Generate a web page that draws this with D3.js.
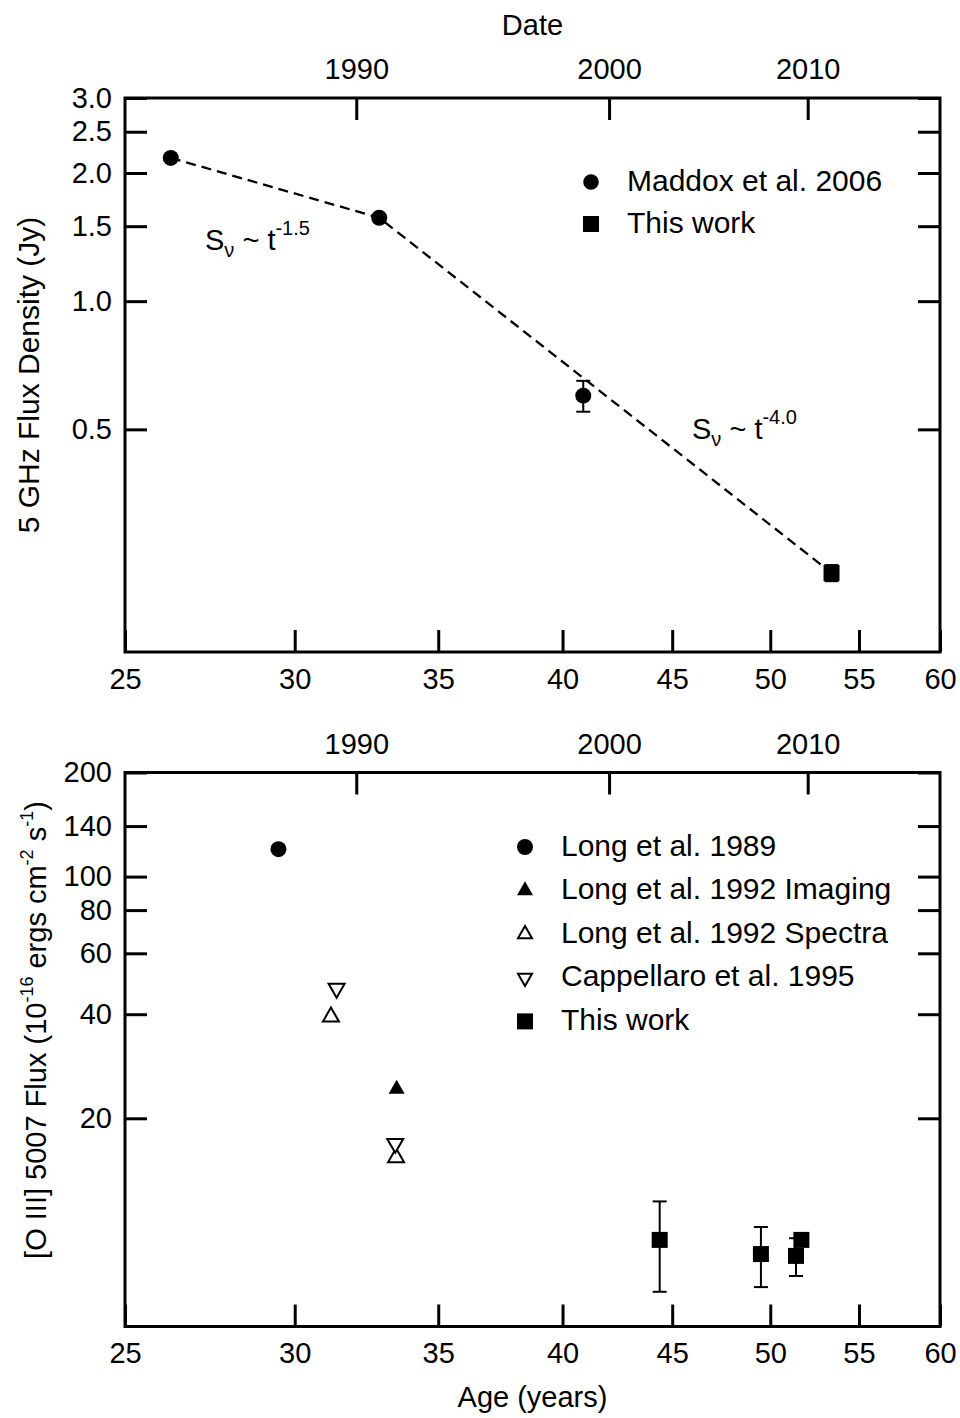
<!DOCTYPE html>
<html>
<head>
<meta charset="utf-8">
<script src="https://cdn.jsdelivr.net/npm/d3@7"></script>
<style>
  body { margin: 0; background: #fff; }
  svg { font-family: "Liberation Sans", Arial, Helvetica, sans-serif; }
  .axis text { font-size: 29px; fill: #000; }
  .axis line { stroke: #000; stroke-width: 3px; }
</style>
</head>
<body>
<div id="vis"></div>
<script>
// ---- data ----
const birthYear = 1957.95;           // age = date - birthYear
const ageTicks = [25, 30, 35, 40, 45, 50, 55, 60];
const dateTicks = [1990, 2000, 2010];
const radioTicks = [3.0, 2.5, 2.0, 1.5, 1.0, 0.5];
const oiiiTicks = [200, 140, 100, 80, 60, 40, 20];

// top panel: 5 GHz flux density
const radioAge = [26.26, 32.85, 40.9, 53.4];
const radioFlux = [2.17, 1.57, 0.60, 0.23];
const radioErr = [0.03, 0.02, 0.05, 0.01];
const radioSet = ['maddox', 'maddox', 'maddox', 'this'];
const fitAge = [26.26, 32.85, 53.4];
const fitFlux = [2.17, 1.57, 0.23];

// bottom panel: [O III] 5007 flux
const long89Age = [29.48], long89Flux = [120];
const long92ImgAge = [33.47], long92ImgFlux = [24.3];
const long92SpecAge = [31.19, 33.45], long92SpecFlux = [39.3, 15.4];
const capp95Age = [31.38, 33.42], capp95Flux = [47.5, 16.9];
const thisAge = [44.4, 49.5, 51.4, 51.7];
const thisFlux = [8.9, 8.1, 8.0, 8.9];
const thisErr = [2.6, 1.6, 1.0, 0.3];

const radioLegend = ['Maddox et al. 2006', 'This work'];
const oiiiLegend = ['Long et al. 1989', 'Long et al. 1992 Imaging', 'Long et al. 1992 Spectra',
                    'Cappellaro et al. 1995', 'This work'];

// ---- layout ----
const W = 960, H = 1418;
const left = 125, right = 940;
const top1 = 98, bot1 = 652;
const top2 = 772.5, bot2 = 1326.5;
const tick = 22;

const svg = d3.select('#vis').append('svg').attr('width', W).attr('height', H);

const x = d3.scaleLog().domain([25, 60]).range([left, right]);
const y1 = d3.scaleLog().domain([0.15, 3]).range([bot1, top1]);
const y2 = d3.scaleLog().domain([5, 200]).range([bot2, top2]);

const shape = {
  circle: d3.symbol().type(d3.symbolCircle).size(201),
  square: d3.symbol().type(d3.symbolSquare).size(256),
  tri: d3.symbol().type(d3.symbolTriangle).size(111),
  triSmall: d3.symbol().type(d3.symbolTriangle).size(85)
};

function frame(y, y0, y1p, yTicks, fmt) {
  const g = svg.append('g');
  g.append('g').attr('class', 'axis')
    .attr('transform', `translate(0,${y0})`)
    .call(d3.axisBottom(x).tickValues(ageTicks).tickFormat(d3.format('d'))
      .tickSizeInner(-tick).tickSizeOuter(0).tickPadding(16))
    .call(a => a.select('.domain').remove());
  g.append('g').attr('class', 'axis')
    .attr('transform', `translate(0,${y1p})`)
    .call(d3.axisTop(x).tickValues(dateTicks.map(d => d - birthYear))
      .tickFormat((d, i) => dateTicks[i])
      .tickSizeInner(-tick).tickSizeOuter(0).tickPadding(19))
    .call(a => a.select('.domain').remove());
  g.append('g').attr('class', 'axis')
    .attr('transform', `translate(${left},0)`)
    .call(d3.axisLeft(y).tickValues(yTicks).tickFormat(fmt)
      .tickSizeInner(-tick).tickSizeOuter(0).tickPadding(13))
    .call(a => a.select('.domain').remove());
  g.append('g').attr('class', 'axis')
    .attr('transform', `translate(${right},0)`)
    .call(d3.axisRight(y).tickValues(yTicks).tickFormat('')
      .tickSizeInner(-tick).tickSizeOuter(0))
    .call(a => a.select('.domain').remove());
  g.append('rect')
    .attr('x', left).attr('y', y1p)
    .attr('width', right - left).attr('height', y0 - y1p)
    .attr('fill', 'none').attr('stroke', '#000').attr('stroke-width', 3);
  return g;
}

function errBar(g, ax, v, e, y) {
  const cx = x(ax);
  g.append('line').attr('x1', cx).attr('x2', cx)
    .attr('y1', y(v + e)).attr('y2', y(v - e))
    .attr('stroke', '#000').attr('stroke-width', 2);
  [v + e, v - e].forEach(t => {
    g.append('line').attr('x1', cx - 7).attr('x2', cx + 7)
      .attr('y1', y(t)).attr('y2', y(t))
      .attr('stroke', '#000').attr('stroke-width', 2);
  });
}

// ---- top panel ----
frame(y1, bot1, top1, radioTicks, d3.format('.1f'));

const fit = fitAge.map((a, i) => ({ a, f: fitFlux[i] }));
svg.append('path')
  .attr('d', d3.line().x(d => x(d.a)).y(d => y1(d.f))(fit))
  .attr('fill', 'none').attr('stroke', '#000').attr('stroke-width', 2.3)
  .attr('stroke-dasharray', '10,6');

const pts1 = svg.append('g');
radioAge.forEach((a, i) => {
  errBar(pts1, a, radioFlux[i], radioErr[i], y1);
  pts1.append('path')
    .attr('d', radioSet[i] == 'this' ? shape.square() : shape.circle())
    .attr('transform', `translate(${x(a)},${y1(radioFlux[i])})`)
    .attr('fill', '#000');
});

function powerLabel(px, py, exp) {
  const t = svg.append('text').attr('x', px).attr('y', py).attr('font-size', 29);
  t.append('tspan').text('S');
  t.append('tspan').attr('font-size', 20).attr('dy', 7).text('\u03bd');
  t.append('tspan').attr('dy', -7).text(' ~ t');
  t.append('tspan').attr('font-size', 20).attr('dy', -15).text(exp);
}
powerLabel(205, 250, '-1.5');
powerLabel(692, 439, '-4.0');

const leg1 = svg.append('g');
radioLegend.forEach((name, i) => {
  const yy = 182 + i * 42;
  leg1.append('path').attr('d', i == 0 ? shape.circle.size(190)() : shape.square())
    .attr('transform', `translate(591,${yy})`).attr('fill', '#000');
  leg1.append('text').attr('x', 627).attr('y', yy + 8.5)
    .attr('font-size', 30).text(name);
});
shape.circle.size(201);

svg.append('text').attr('x', (left + right) / 2).attr('y', 35)
  .attr('text-anchor', 'middle').attr('font-size', 29).text('Date');

svg.append('text')
  .attr('transform', `translate(39,${(top1 + bot1) / 2}) rotate(-90)`)
  .attr('text-anchor', 'middle').attr('font-size', 30)
  .text('5 GHz Flux Density (Jy)');

// ---- bottom panel ----
frame(y2, bot2, top2, oiiiTicks, d3.format('d'));

const pts2 = svg.append('g');
long89Age.forEach((a, i) => {
  pts2.append('path').attr('d', shape.circle())
    .attr('transform', `translate(${x(a)},${y2(long89Flux[i])})`).attr('fill', '#000');
});
long92ImgAge.forEach((a, i) => {
  pts2.append('path').attr('d', shape.tri())
    .attr('transform', `translate(${x(a)},${y2(long92ImgFlux[i])})`).attr('fill', '#000');
});
long92SpecAge.forEach((a, i) => {
  pts2.append('path').attr('d', shape.tri())
    .attr('transform', `translate(${x(a)},${y2(long92SpecFlux[i])})`)
    .attr('fill', '#fff').attr('stroke', '#000').attr('stroke-width', 2);
});
capp95Age.forEach((a, i) => {
  pts2.append('path').attr('d', shape.tri())
    .attr('transform', `translate(${x(a)},${y2(capp95Flux[i])}) rotate(180)`)
    .attr('fill', '#fff').attr('stroke', '#000').attr('stroke-width', 2);
});
thisAge.forEach((a, i) => {
  errBar(pts2, a, thisFlux[i], thisErr[i], y2);
});
thisAge.forEach((a, i) => {
  pts2.append('path').attr('d', shape.square())
    .attr('transform', `translate(${x(a)},${y2(thisFlux[i])})`).attr('fill', '#000');
});

const leg2 = svg.append('g');
oiiiLegend.forEach((name, i) => {
  const yy = 847 + i * 43.6;
  const m = leg2.append('path').attr('transform', `translate(525,${yy})` + (i == 3 ? ' rotate(180)' : ''));
  if (i == 0) m.attr('d', shape.circle()).attr('fill', '#000');
  else if (i == 1) m.attr('d', shape.tri()).attr('fill', '#000');
  else if (i == 4) m.attr('d', shape.square()).attr('fill', '#000');
  else m.attr('d', shape.triSmall()).attr('fill', '#fff').attr('stroke', '#000').attr('stroke-width', 2);
  leg2.append('text').attr('x', 561).attr('y', yy + 8.5)
    .attr('font-size', 30).text(name);
});

svg.append('text').attr('x', (left + right) / 2).attr('y', 1407)
  .attr('text-anchor', 'middle').attr('font-size', 29).text('Age (years)');

const yl = svg.append('text')
  .attr('transform', `translate(46,1030) rotate(-90)`)
  .attr('text-anchor', 'middle').attr('font-size', 29);
yl.append('tspan').text('[O III] 5007 Flux (10');
yl.append('tspan').attr('font-size', 18).attr('dy', -13).text('-16');
yl.append('tspan').attr('dy', 13).text(' ergs cm');
yl.append('tspan').attr('font-size', 18).attr('dy', -13).text('-2');
yl.append('tspan').attr('dy', 13).text(' s');
yl.append('tspan').attr('font-size', 18).attr('dy', -13).text('-1');
yl.append('tspan').attr('dy', 13).text(')');
</script>
</body>
</html>
